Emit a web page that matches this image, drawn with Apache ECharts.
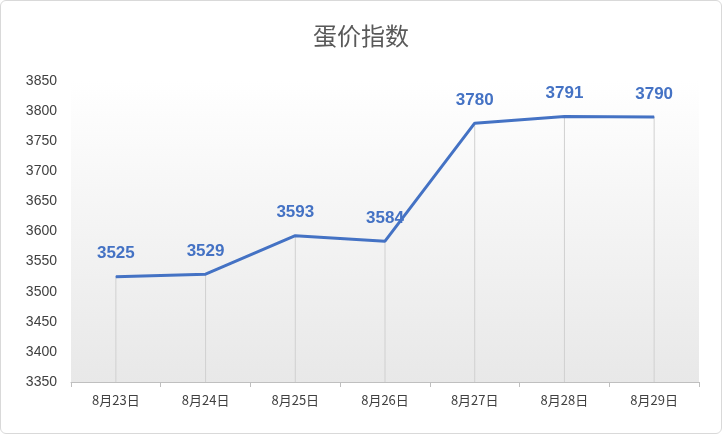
<!DOCTYPE html>
<html><head><meta charset="utf-8">
<script src="https://cdn.jsdelivr.net/npm/echarts@6/dist/echarts.min.js"></script>
<style>html,body{margin:0;padding:0;background:#fff}#c{width:722px;height:434px;box-sizing:border-box;border:1px solid #d9d9d9;border-radius:6px}</style>
</head><body><div id="c"></div>
<script>
const categories = ['8月23日','8月24日','8月25日','8月26日','8月27日','8月28日','8月29日'];
const values = [3525,3529,3593,3584,3780,3791,3790];
const yTicks = {min:3350,max:3850,interval:50};
const chart = echarts.init(document.getElementById('c'));
chart.setOption({
  animation:false,
  title:{text:'蛋价指数',left:'center',top:18,textStyle:{fontFamily:'Noto Sans CJK SC',fontSize:24,fontWeight:'normal',color:'#595959'}},
  grid:{left:70,right:22,top:80,bottom:51,show:true,borderWidth:0,
    backgroundColor:new echarts.graphic.LinearGradient(0,0,0,1,[{offset:0,color:'#ffffff'},{offset:1,color:'#e8e8e8'}])},
  xAxis:{type:'category',data:categories,boundaryGap:true,
    axisLine:{lineStyle:{color:'#bfbfbf'}},axisTick:{show:true,lineStyle:{color:'#bfbfbf'}},
    axisLabel:{color:'#404040',fontSize:13,fontFamily:'Noto Sans CJK SC',margin:12}},
  yAxis:{type:'value',min:yTicks.min,max:yTicks.max,interval:yTicks.interval,
    splitLine:{show:false},axisLine:{show:false},axisTick:{show:false},
    axisLabel:{color:'#404040',fontSize:14,fontFamily:'Liberation Sans',margin:14,formatter:v=>String(v)}},
  series:[
    {type:'bar',data:values,barWidth:1,itemStyle:{color:'#d0d0d0'},silent:true},
    {type:'line',data:values,symbol:'circle',symbolSize:1,showSymbol:true,itemStyle:{color:'#4472C4'},lineStyle:{color:'#4472C4',width:3},
     label:{show:true,position:'top',distance:14,color:'#4472C4',fontWeight:'bold',fontSize:17,fontFamily:'Liberation Sans'}}
  ]
});
</script></body></html>
